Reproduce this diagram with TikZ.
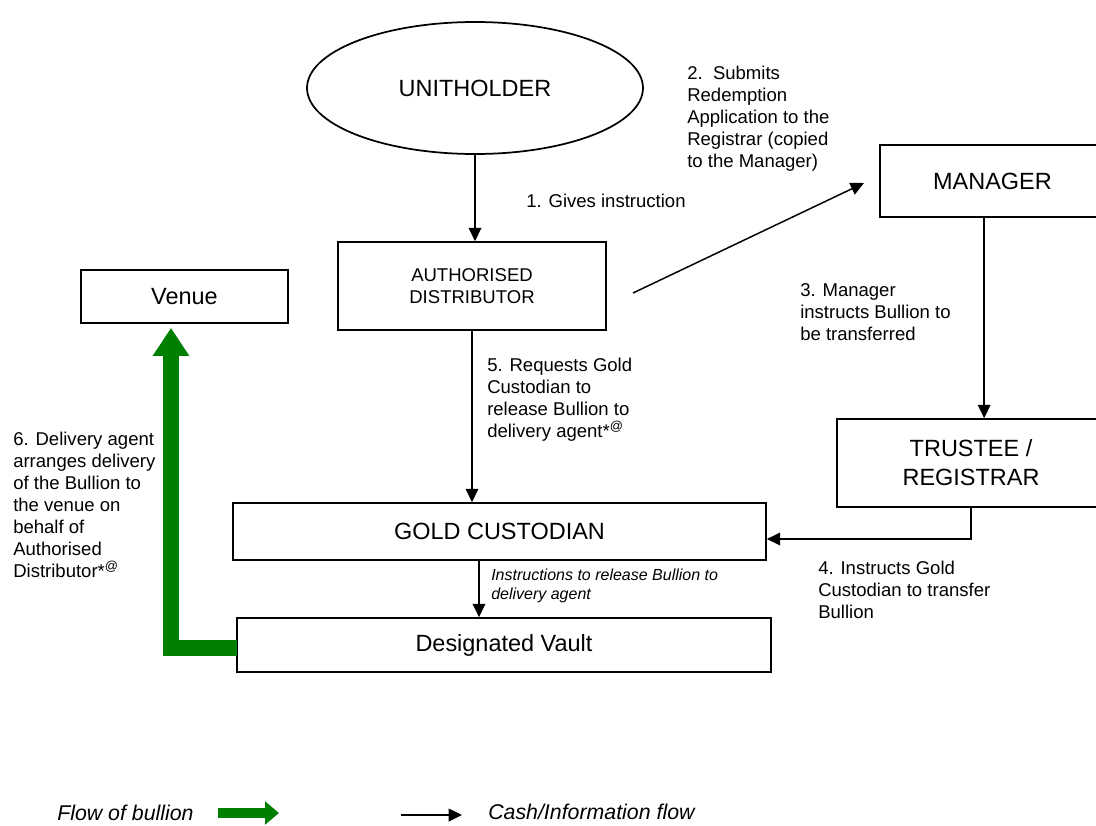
\documentclass[tikz,border=0pt]{standalone}
\usepackage{fontspec}
\setmainfont{Liberation Sans}
\usetikzlibrary{arrows.meta,shapes.geometric,calc}
\definecolor{bgreen}{RGB}{0,128,0}
\begin{document}
\begin{tikzpicture}[x=0.75pt,y=-0.75pt,
 box/.style={draw,line width=1.3pt,inner sep=0pt,align=center},
 big/.style={font=\fontsize{17.6}{21.75}\selectfont},
 lbl/.style={anchor=west,align=left,font=\fontsize{13.9}{16.5}\selectfont,inner sep=0pt},
 conn/.style={line width=1.1pt,-{Triangle[length=10pt,width=9.5pt]}},
 bull/.style={line width=12pt,draw=bgreen,-{Triangle[length=21pt,width=26pt]}},
 bulllegend/.style={line width=8pt,draw=bgreen,-{Triangle[length=10.5pt,width=17pt]}},
]
\clip (0,0) rectangle (1096,825);
\fill[white] (0,0) rectangle (1096,825);

% nodes
\node[draw,ellipse,line width=1.3pt,inner sep=0pt,minimum width=252pt,minimum height=99pt,big] (U) at (475,88) {UNITHOLDER};
\node[box,minimum width=201pt,minimum height=66pt,font=\fontsize{13.9}{16.5}\selectfont] (AD) at (472,286) {AUTHORISED\\DISTRIBUTOR};
\node[box,minimum width=155.25pt,minimum height=39.75pt,big] (Ven) at (184.5,296.5) {Venue};
\node[box,minimum width=168.75pt,minimum height=54pt,big] (M) at (992.5,181) {MANAGER};
\node[box,minimum width=201pt,minimum height=66pt,big] (T) at (971,463) {TRUSTEE /\\REGISTRAR};
\node[box,minimum width=399.75pt,minimum height=42.75pt,big] (GC) at (499.5,531.5) {GOLD CUSTODIAN};
\node[box,minimum width=400.5pt,minimum height=40.5pt,big] (V) at (504,645) {Designated Vault};

% labels
\node[lbl] (l2) at (687,119) {2.\ \ Submits\\Redemption\\Application to the\\Registrar (copied\\to the Manager)};
\node[lbl] (l1) at (526,201) {1. Gives instruction};
\node[lbl] (l3) at (800,312) {3. Manager\\instructs Bullion to\\be transferred};
\node[lbl] (l5) at (487,399.5) {5. Requests Gold\\Custodian to\\release Bullion to\\delivery agent*\textsuperscript{@}};
\node[lbl] (l6) at (13,505) {6. Delivery agent\\arranges delivery\\of the Bullion to\\the venue on\\behalf of\\Authorised\\Distributor*\textsuperscript{@}};
\node[lbl] (l4) at (818,590) {4. Instructs Gold\\Custodian to transfer\\Bullion};
\node[lbl,font=\fontsize{12}{14.25}\selectfont\itshape] (li) at (491,585.5) {Instructions to release Bullion to\\delivery agent};

% connectors
\draw[conn] (U.south) -- (U.south |- AD.north);
\coordinate (d1) at (633,293);
\coordinate (d2) at (864,183);
\draw[conn] (d1) -- (d2);
\coordinate (ms) at ($(M.south west)+(105,0)$);
\draw[conn] (ms) -- (ms |- T.north);
\coordinate (gce) at ($(GC.east)+(0,7.5)$);
\draw[conn] (T.south) |- (gce);
\draw[conn] (AD.south) -- (AD.south |- GC.north);
\coordinate (gcs) at ($(GC.south)+(-20.5,0)$);
\draw[conn] (gcs) -- (gcs |- V.north);
\coordinate (vw) at ($(V.west)+(1,3)$);
\coordinate (vt) at ($(Ven.south)+(-13.5,4)$);
\draw[bull,line join=miter] (vw) -| (vt);

% legend
\node[anchor=west,inner sep=0pt,font=\fontsize{16}{19}\selectfont\itshape] (lf) at (57,813) {Flow of bullion};
\coordinate (g1) at (218,813);
\coordinate (g2) at (279,813);
\draw[bulllegend] (g1) -- (g2);
\coordinate (b1) at (401,815);
\coordinate (b2) at (462,815);
\draw[conn] (b1) -- (b2);
\node[anchor=west,inner sep=0pt,font=\fontsize{16}{19}\selectfont\itshape] (lc) at (488,812) {Cash/Information flow};
\end{tikzpicture}
\end{document}
